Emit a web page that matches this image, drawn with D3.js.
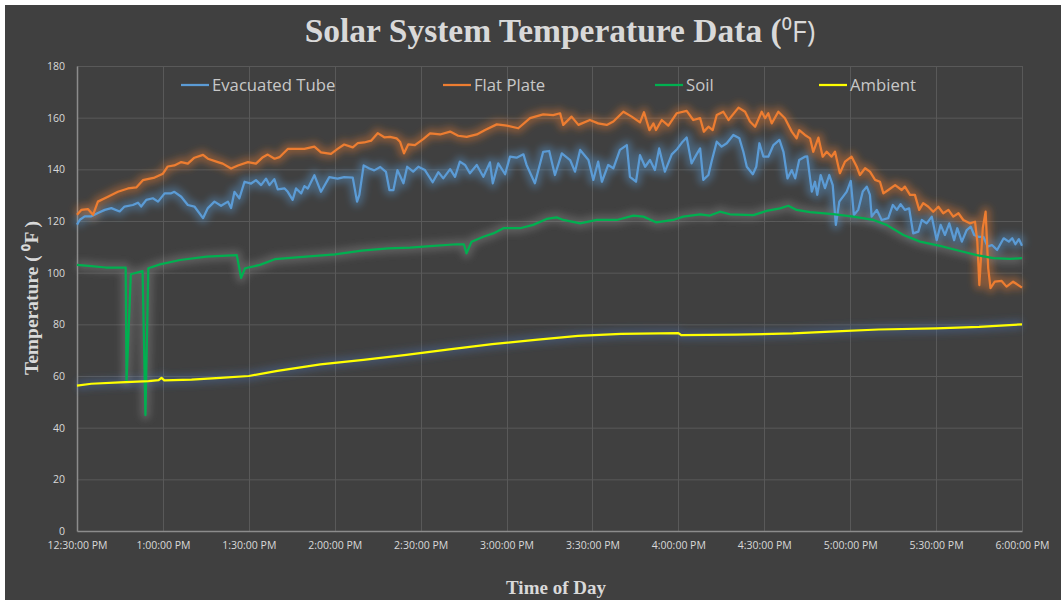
<!DOCTYPE html>
<html>
<head>
<meta charset="utf-8">
<script src="https://cdn.jsdelivr.net/npm/d3@7"></script>
<style>
  html, body { margin: 0; padding: 0; background: #ffffff; }
  svg { display: block; }
</style>
</head>
<body>
<div id="chart"></div>
<script>
// minutes after 12:30 PM, temperature in F
const evacuatedTube = [
  [0,118.6],[1,120.5],[2.7,121.8],[5,121.8],[7.3,123.1],[9.7,124.3],[12,125],[14.9,123.7],[16.6,125.6],
  [19.5,126.2],[21.3,127.1],[22.4,125.6],[24.2,128.2],[26.5,128.8],[28.3,127.5],[30.6,130.7],[32.9,130.7],
  [34,131.3],[36.4,129.4],[38.7,126.2],[41,125.6],[44,121.1],[45.7,125],[48,127.5],[50.3,125.9],[52.7,127.5],
  [53.8,125],[55,131.3],[56.7,128.8],[58.5,135.2],[60.8,134.5],[62.5,135.8],[64.3,133.9],[66,136.4],
  [67.2,133.9],[68.9,136.2],[70.1,132.2],[72.5,132.6],[73.6,131.3],[75.3,128.2],[76.5,132.6],[78.3,130.7],
  [79.4,133.5],[80.6,132.6],[82.9,137.7],[85.2,131.3],[88.1,137],[91,136.4],[93.3,137],[96.3,136.8],
  [97.8,127.5],[98.6,130.1],[100.1,141.5],[102.1,140.3],[103.8,139.6],[105.9,140.9],[107.9,139],[109.1,132],
  [110.5,132],[111.9,139.7],[114,134.6],[115.3,141],[117.4,139.1],[119.2,141],[121.5,139.7],[124.2,135],
  [126.2,138.9],[127.9,136.5],[130.3,140.1],[132,137.1],[133.7,143],[135.5,141.7],[137.2,138.5],[139.6,141.7],
  [141.9,137.1],[144.2,142.7],[145.2,134.6],[147.1,142.3],[149.5,138.1],[151.2,144.9],[153.5,144.5],
  [155.9,145.8],[157,141.7],[159.9,134.6],[162.8,146.8],[164.9,147.1],[166.9,137.8],[169.3,146.2],
  [172.2,143.6],[173.9,139.1],[175.7,147.5],[178.6,143.6],[180.3,135.9],[182,143],[183.3,135.2],[185.5,141.7],
  [187.3,140.4],[189.6,147.5],[192,149.4],[193.1,137.1],[195.2,135.2],[196.6,145.5],[198.4,141],[200.1,143.6],
  [201.8,139.7],[203.3,148.1],[205.3,139.1],[207.7,145.8],[209.6,147.9],[211.5,150.7],[212.9,152.3],
  [214.6,142.3],[216.2,145.5],[217.6,148.1],[218.7,135.9],[220.5,137.8],[221.6,143],[223.4,150.7],
  [225.1,148.8],[226.9,150.1],[229.2,153.3],[231.3,152],[232.7,146.8],[233.9,141],[236,138.1],[237.2,141],
  [238.3,150.1],[239.7,144.9],[241.4,144.9],[243.2,149.4],[245.3,151.4],[246.7,146.8],[248.1,136.5],
  [249.6,139.7],[250.8,136.5],[252.2,143.6],[254.2,144.9],[255,145],[256.6,131.4],[257.7,135.2],[258.5,130.1],
  [259.7,137.8],[261.2,132.7],[262.7,137.8],[263.9,133.9],[265,118.5],[266.2,127.5],[268.8,131.4],
  [270.2,135.5],[271.3,122.3],[272.8,124.3],[274.4,131.4],[275.8,133.3],[276.9,130.1],[277.5,121.7],
  [279.3,124.3],[281,120.4],[283.3,121.1],[284.9,126.2],[286.3,124.3],[287.6,126.5],[289.1,124.3],
  [290.6,124.9],[292,115.2],[293.8,115.9],[295,120.4],[296.7,119.1],[298.5,121.7],[300.2,112.6],
  [301.6,118.5],[303.1,114.6],[304.6,119.1],[306.3,112.6],[307.4,117.2],[309,112],[310.7,116.5],
  [312.1,117.8],[313.3,114.6],[314.8,113.9],[316.5,113.9],[318,110.1],[319.5,110.7],[321.3,108.8],
  [323.6,113.3],[325.4,112],[326.6,113.3],[327.7,111],[328.9,113],[330,110.4]
];

const flatPlate = [
  [0,122.4],[1.5,124.3],[3.8,124.6],[5.6,122.4],[7.3,127.5],[10.8,129.4],[14.3,131.3],[17.8,132.6],
  [20.7,133],[23,135.8],[27.1,136.8],[30,138.3],[31.7,141.1],[34,141.5],[36.4,142.8],[38.7,142.2],
  [41,144.5],[44,145.6],[45.7,144.1],[49.2,142.8],[50.9,142.2],[53.8,140.3],[56.2,141.5],[59.7,142.8],
  [62.5,142.2],[64.9,144.7],[66.6,145.7],[69,144.1],[70.7,144.7],[73.6,147.9],[76,147.9],[79.4,147.9],
  [82.9,148.8],[85.2,146.6],[88.7,146],[91,147.9],[93.3,149.6],[96.3,148.5],[98,150.1],[100.3,150.4],
  [102.7,151.1],[105,154],[107.3,152.4],[109.3,152.6],[111.6,152],[112.8,150.7],[114.2,146.2],[115.7,149.7],
  [118,149.4],[120.9,151.7],[123.3,153.9],[126.8,153.5],[130.3,154.6],[133.1,153],[136.1,152.6],
  [139.6,153.5],[142.5,155.2],[146.6,157.4],[150.1,156.9],[154.1,155.9],[158.2,159.8],[162.8,161.3],
  [166.3,161],[168.7,161.7],[169.8,157.2],[172.7,160.4],[175.1,157.2],[179.1,159.1],[182,157.8],[185,157.2],
  [187.3,158.5],[190.8,162.3],[193.7,160.4],[196.6,158.2],[198,162.1],[199.9,155.2],[201.3,157.8],
  [202.2,155.2],[204.2,159.1],[206.5,156.9],[209.4,161.7],[212.9,162.6],[215.2,159.1],[217.6,159.8],
  [218.9,154.6],[220.5,156.5],[222,155.2],[223.4,161],[225.7,162.3],[227.5,159.1],[231,163.9],[233.3,162.3],
  [235,158.5],[236.8,156.5],[239.1,162.3],[240.3,159.8],[241.4,161.7],[242.6,157.8],[244.9,162.3],
  [247.2,159.8],[249.6,154.6],[251.3,152],[252.2,155.2],[254.2,153.3],[256,152],[257.1,146.8],[258.9,152.3],
  [260.4,144.9],[261.8,146.8],[263.5,144.9],[264.7,146.8],[266.4,138.5],[268.2,143],[270.5,144.9],
  [272.3,141],[273.4,137.8],[275.2,140.4],[276.9,139.1],[278.7,135.9],[280.4,135.2],[281.6,130.7],
  [283.3,132],[285.7,133.9],[288,132],[289.1,133.3],[290.9,130.1],[292.6,130.1],[294.1,124.3],[295.5,126.9],
  [297.3,125.5],[299,123.6],[300.8,125.5],[302.5,123],[304.3,124.3],[306,121.7],[307.8,123],[309.5,120.4],
  [311.8,119.1],[313.6,119.7],[314.4,112],[315.1,95.2],[316.3,117.2],[317.3,123.6],[318.2,101.7],[319,94],
  [320.5,96.5],[322.9,96.8],[324.6,94.6],[326.9,96.5],[330,94.2]
];

const soil = [
  [0,103],[5,102.5],[10,102],[14,102],[17,102],[17.3,57.8],[18.8,99.4],[22.9,100.6],[23.9,44.9],
  [24.9,101.7],[29,103.2],[36,104.9],[45.3,106.2],[55.8,106.8],[57.3,98],[58.7,101.7],[63.9,103],
  [69.1,105.2],[80,106.2],[90.1,107.1],[99.4,108.5],[108.7,109.4],[116.3,109.7],[123.3,110.3],[132.6,111],
  [135.1,111],[136,107.5],[137.8,112],[141.9,113.9],[145.4,115.2],[148.9,117.2],[154.7,117.2],[159.3,118.5],
  [164,120.8],[167.5,121.4],[169.8,120.4],[175.7,119.1],[181.5,120.4],[188.5,120.4],[194.3,122.1],
  [197.8,121.7],[202.2,119.5],[208.2,120.4],[211.7,121.7],[217.6,122.6],[221,122.1],[224.5,123.6],
  [228,122.6],[236.2,122.3],[240.8,123.9],[245.5,124.9],[248.4,125.9],[251.3,124.3],[256,123.4],
  [264.1,122.7],[271.1,121.7],[278.1,120.4],[282.7,118.5],[288.6,114.6],[294.4,112],[301.4,110.4],
  [308.4,108.4],[314.2,106.8],[320,105.6],[325.8,105.3],[330,105.6]
];

const ambient = [
  [0,56.3],[5,57],[15,57.5],[25,58],[28.5,58.4],[29.5,59.3],[30.5,58.3],[40,58.6],[50,59.3],[60,60],
  [70,62],[85,64.5],[100,66.2],[115,68.2],[130,70.3],[145,72.3],[160,74],[175,75.5],[190,76.3],[210,76.6],
  [211,75.8],[230,76],[250,76.5],[265,77.3],[280,78],[300,78.4],[315,79],[330,80]
];

const seriesNames = ["Evacuated Tube", "Flat Plate", "Soil", "Ambient"];
const seriesColors = ["#5b9bd5", "#ed7d31", "#00b050", "#ffff00"];
const glowColors = ["#5b9bd5", "#ed7d31", "#8a8a8a", "#4a6fa8"];
const yTicks = [0, 20, 40, 60, 80, 100, 120, 140, 160, 180];

const width = 1061;
const height = 600;
const margin = { left: 77, right: 39, top: 66, bottom: 69 };

const start = new Date(2020, 0, 1, 12, 30);
const toDate = m => new Date(start.getTime() + m * 60000);

const svg = d3.select("#chart")
  .append("svg")
  .attr("width", width)
  .attr("height", height);

svg.append("rect")
  .attr("x", 5).attr("y", 5)
  .attr("width", width - 5).attr("height", height - 5)
  .attr("fill", "#404040");

const x = d3.scaleTime()
  .domain([start, toDate(330)])
  .range([margin.left, width - margin.right]);

const y = d3.scaleLinear()
  .domain([0, 180])
  .range([height - margin.bottom, margin.top]);

const xTicks = d3.range(0, 331, 30).map(toDate);
const fmt = d3.timeFormat("%-I:%M:%S %p");

// glow filter
const defs = svg.append("defs");
defs.append("filter")
  .attr("id", "blur")
  .attr("x", "-10%").attr("y", "-20%")
  .attr("width", "120%").attr("height", "140%")
  .append("feGaussianBlur")
  .attr("stdDeviation", 3.5);

// gridlines
const grid = svg.append("g");
grid.selectAll(".hgrid")
  .data(yTicks.slice(1))
  .enter().append("line")
  .attr("x1", margin.left).attr("x2", width - margin.right)
  .attr("y1", d => y(d) + 0.5).attr("y2", d => y(d) + 0.5)
  .attr("stroke", "#595959").attr("stroke-width", 1);
grid.selectAll(".vgrid")
  .data(xTicks.slice(1))
  .enter().append("line")
  .attr("x1", d => Math.round(x(d)) + 0.5).attr("x2", d => Math.round(x(d)) + 0.5)
  .attr("y1", margin.top).attr("y2", height - margin.bottom)
  .attr("stroke", "#595959").attr("stroke-width", 1);

// axes
const xAxis = svg.append("g")
  .attr("transform", `translate(0,${height - margin.bottom})`)
  .call(d3.axisBottom(x).tickValues(xTicks).tickFormat(fmt).tickSize(0).tickPadding(11));
const yAxis = svg.append("g")
  .attr("transform", `translate(${margin.left},0)`)
  .call(d3.axisLeft(y).tickValues(yTicks).tickSize(0).tickPadding(12));

[xAxis, yAxis].forEach(a => {
  a.select(".domain").attr("stroke", "#8c8c8c").attr("stroke-width", 1.5);
  a.selectAll("text")
    .attr("fill", "#d9d9d9")
    .style("font-family", "'Open Sans', sans-serif")
    .style("font-size", "10.5px");
});

// series
const line = d3.line()
  .x(d => x(toDate(d[0])))
  .y(d => y(d[1]));

const allSeries = [evacuatedTube, flatPlate, soil, ambient];
const plot = svg.append("g");
allSeries.forEach((s, i) => {
  plot.append("path")
    .datum(s)
    .attr("d", line)
    .attr("fill", "none")
    .attr("stroke", glowColors[i])
    .attr("stroke-width", 10)
    .attr("stroke-opacity", 0.4)
    .attr("stroke-linejoin", "round")
    .attr("filter", "url(#blur)");
});
allSeries.forEach((s, i) => {
  plot.append("path")
    .datum(s)
    .attr("d", line)
    .attr("fill", "none")
    .attr("stroke", seriesColors[i])
    .attr("stroke-width", 2.25)
    .attr("stroke-linejoin", "round");
});

// legend
const legendX = [181, 443, 655, 819];
const legend = svg.append("g");
seriesNames.forEach((name, i) => {
  legend.append("line")
    .attr("x1", legendX[i]).attr("x2", legendX[i] + 28)
    .attr("y1", 85).attr("y2", 85)
    .attr("stroke", seriesColors[i]).attr("stroke-width", 2.25);
  legend.append("text")
    .attr("x", legendX[i] + 31).attr("y", 91)
    .attr("fill", "#c8c8c8")
    .style("font-family", "'Open Sans', sans-serif")
    .style("font-size", "16.7px")
    .text(name);
});

// titles
const title = svg.append("text")
  .attr("x", 560).attr("y", 42)
  .attr("text-anchor", "middle")
  .attr("fill", "#d9d9d9")
  .style("font-family", "'Liberation Serif', 'Times New Roman', serif")
  .style("font-weight", "bold")
  .style("font-size", "33.5px");
title.append("tspan").text("Solar System Temperature Data (");
title.append("tspan")
  .style("font-family", "'Open Sans', sans-serif")
  .style("font-weight", "normal")
  .style("font-size", "29px")
  .text("⁰F)");

svg.append("text")
  .attr("transform", "translate(38,298) rotate(-90)")
  .attr("text-anchor", "middle")
  .attr("fill", "#d9d9d9")
  .style("font-family", "'Liberation Serif', 'Times New Roman', serif")
  .style("font-weight", "bold")
  .style("font-size", "19.5px")
  .text("Temperature ( ⁰F )");

svg.append("text")
  .attr("x", 556).attr("y", 594)
  .attr("text-anchor", "middle")
  .attr("fill", "#d9d9d9")
  .style("font-family", "'Liberation Serif', 'Times New Roman', serif")
  .style("font-weight", "bold")
  .style("font-size", "19px")
  .text("Time of Day");
</script>
</body>
</html>
